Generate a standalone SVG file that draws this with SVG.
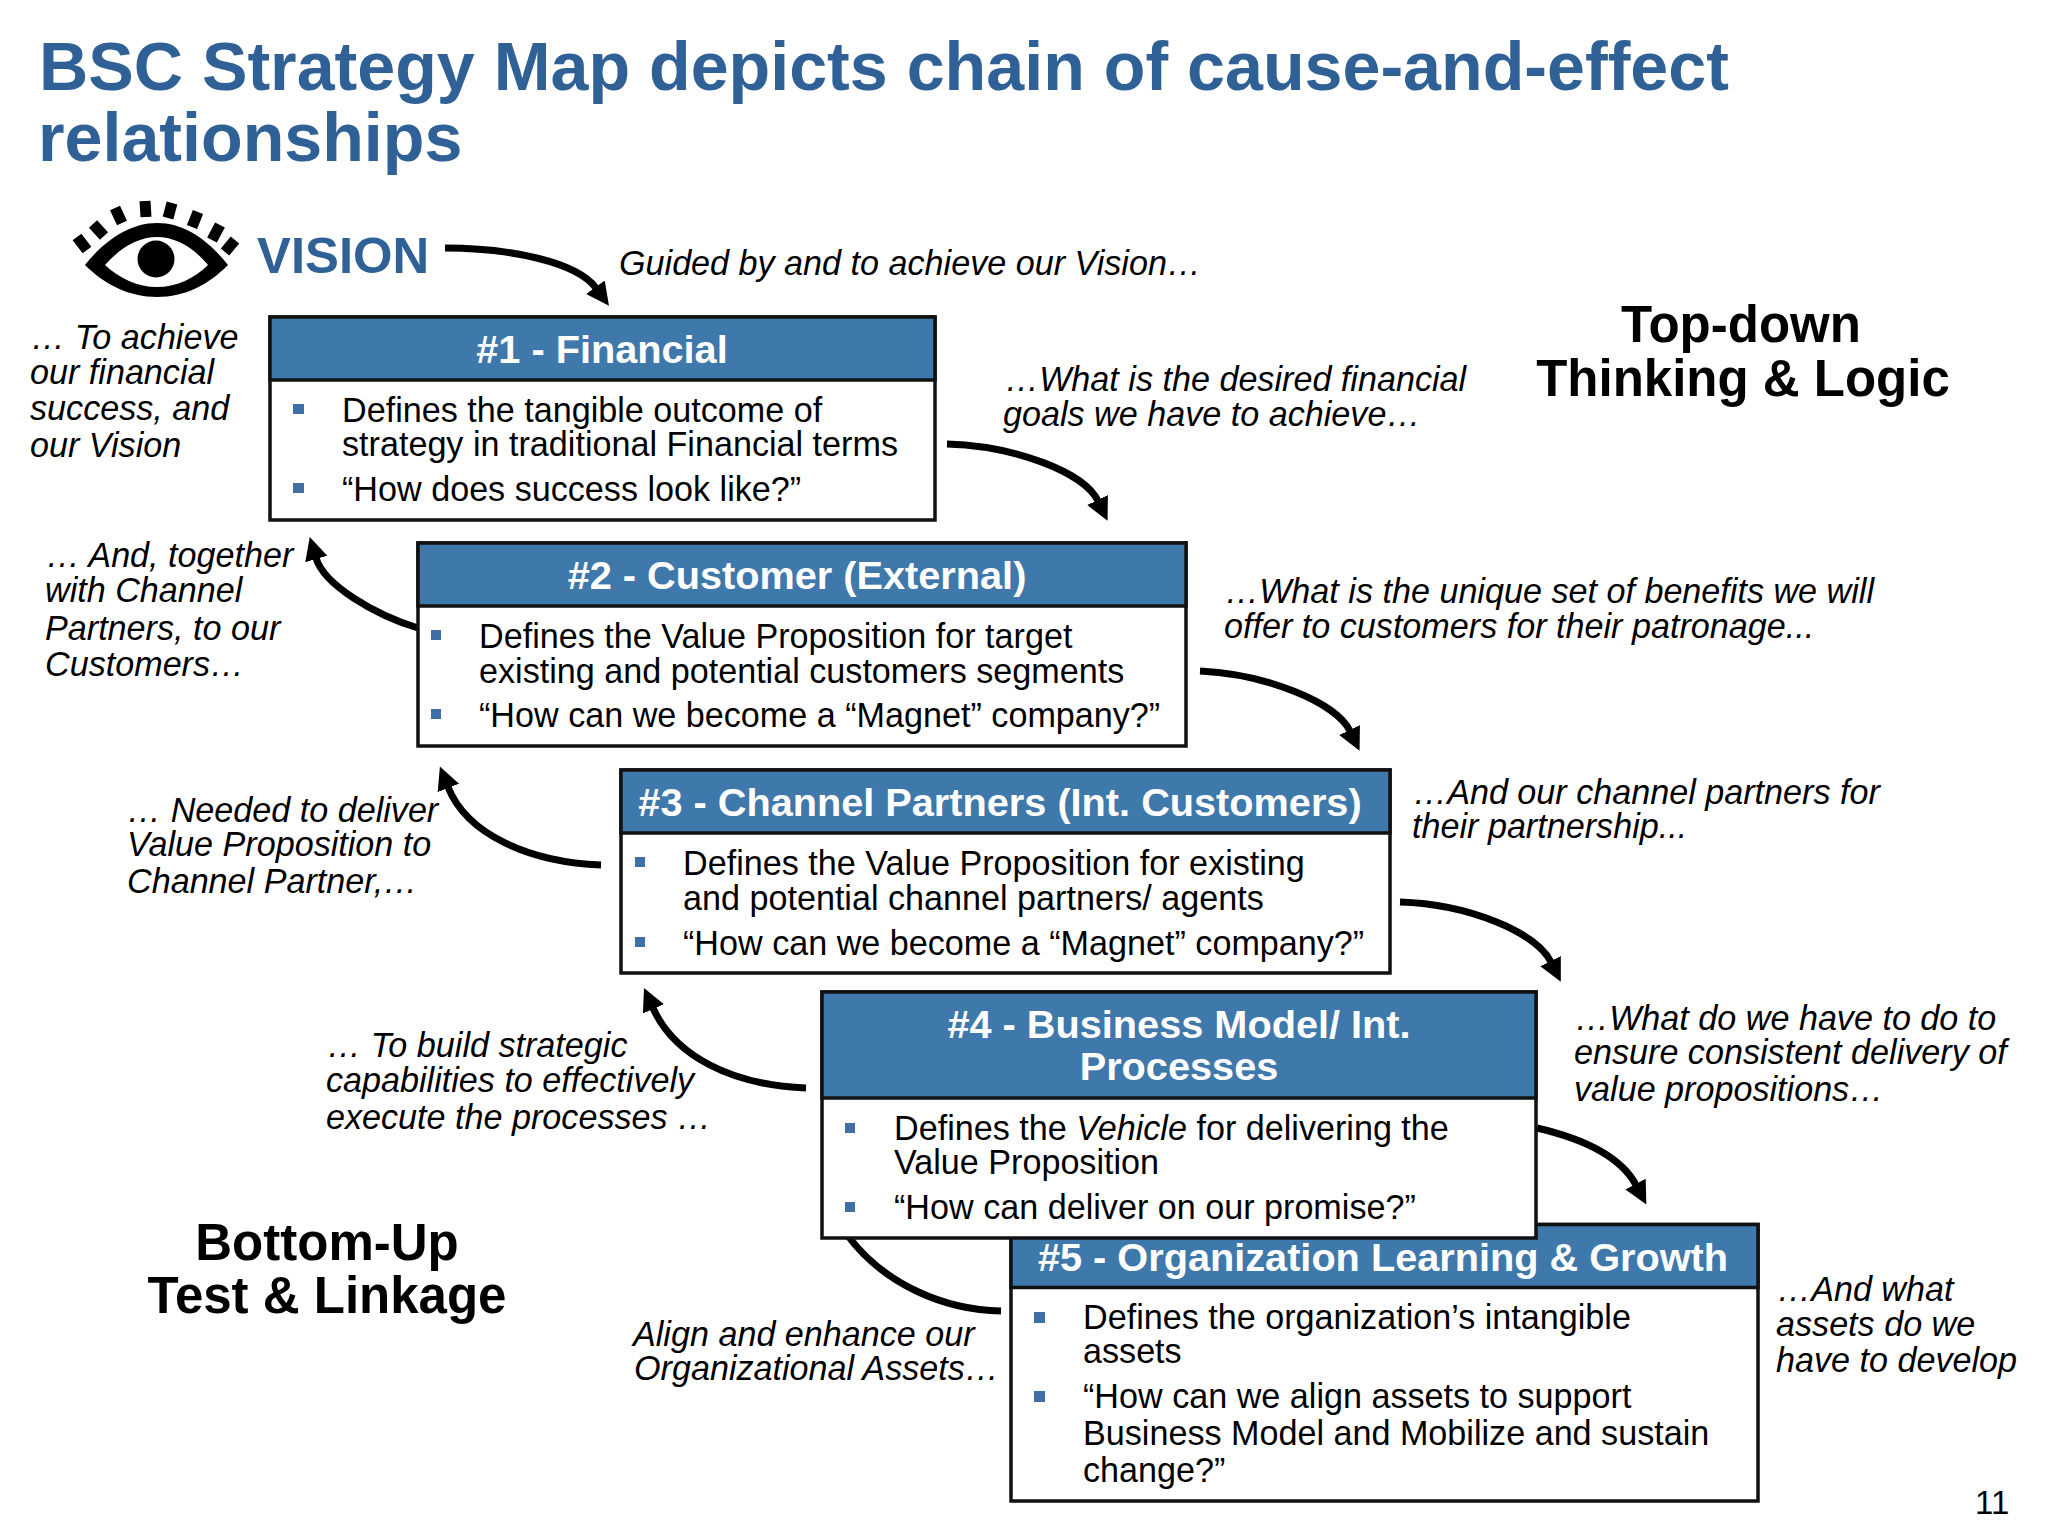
<svg xmlns="http://www.w3.org/2000/svg" width="2048" height="1536" viewBox="0 0 2048 1536">
<style>
text{font-family:"Liberation Sans",Arial,sans-serif;fill:#000}
.t{font-size:68.2px;font-weight:700;fill:#2f6196}
.v{font-size:50.8px;font-weight:700;fill:#2f6196}
.h{font-size:39.7px;font-weight:700;fill:#fff;text-anchor:middle}
.b{font-size:34.15px}
.i{font-size:34.15px;font-style:italic}
.k{font-size:51px;font-weight:700;text-anchor:middle}
.box{fill:#fff;stroke:#111;stroke-width:3.5}
.hd{fill:#3f78ab;stroke:#111;stroke-width:3.5}
.bl{fill:#3f6fa5}
.a{fill:none;stroke:#000;stroke-width:7;marker-end:url(#ah)}
.n{fill:none;stroke:#000;stroke-width:7}
</style>
<defs>
<marker id="ah" markerUnits="userSpaceOnUse" markerWidth="28" markerHeight="28" viewBox="0 0 28 28" refX="1" refY="14" orient="auto"><path d="M0 2.500L23 14L0 25.500Z" fill="#000"/></marker>
</defs>
<rect width="2048" height="1536" fill="#fff"/>
<text class="t" x="39" y="90">BSC Strategy Map depicts chain of cause-and-effect</text>
<text class="t" x="38" y="161">relationships</text>
<g id="vision">
<path fill-rule="evenodd" d="M85 265C105 240 130 223 157 223C185 223 208 240 228 265C208 285 185 297 157 297C130 297 105 285 85 265ZM105 265C120 279 138 287 157 287C176 287 194 279 208 265C194 248 176 237 157 237C138 237 120 248 105 265Z" fill="#000"/>
<circle cx="156" cy="259" r="18.5" fill="#000"/>
<path stroke="#000" stroke-width="11" fill="none" d="M77 237L87 250M93 224L104 236M115 208L122 223M145 201L146 217M172 203L168 218M198 212L192 227M220 225L212 240M235 240L225 252"/>
<text class="v" x="257" y="273">VISION</text>
</g>
<g id="connectors">
<path class="a" d="M445 248C510 248 577 262 596 288"/>
<path class="a" d="M947 444C1015 446 1084 472 1098 501"/>
<path class="a" d="M1200 671C1265 674 1336 702 1350 731"/>
<path class="a" d="M1400 902C1468 904 1536 932 1551 962"/>
<path class="a" d="M1537 1128C1580 1138 1620 1155 1636 1185"/>
<path class="a" d="M418 628C375 615 324 585 316 558"/>
<path class="a" d="M601 865C530 862 467 835 448 787"/>
<path class="a" d="M806 1088C730 1085 674 1055 653 1008"/>
<path class="n" d="M1001 1311C945 1310 885 1285 848 1236"/>
</g>
<g id="node5">
<rect class="box" x="1011" y="1224.500" width="747" height="276.500"/>
<rect class="hd" x="1011" y="1224.500" width="747" height="63"/>
<text class="h" x="1383" y="1271">#5 - Organization Learning &amp; Growth</text>
<rect class="bl" x="1034" y="1312" width="11" height="11"/><rect class="bl" x="1034" y="1391" width="11" height="11"/>
<text class="b" x="1083" y="1329">Defines the organization’s intangible</text>
<text class="b" x="1083" y="1363">assets</text>
<text class="b" x="1083" y="1408">“How can we align assets to support</text>
<text class="b" x="1083" y="1445">Business Model and Mobilize and sustain</text>
<text class="b" x="1083" y="1482">change?”</text>
</g>
<g id="node4">
<rect class="box" x="822" y="992" width="714" height="246"/>
<rect class="hd" x="822" y="992" width="714" height="106"/>
<text class="h" x="1179" y="1038">#4 - Business Model/ Int.</text>
<text class="h" x="1179" y="1080">Processes</text>
<rect class="bl" x="845" y="1123" width="10" height="10"/><rect class="bl" x="845" y="1202" width="10" height="10"/>
<text class="b" x="894" y="1140">Defines the <tspan font-style="italic">Vehicle</tspan> for delivering the</text>
<text class="b" x="894" y="1174">Value Proposition</text>
<text class="b" x="894" y="1219">“How can deliver on our promise?”</text>
</g>
<g id="node3">
<rect class="box" x="621" y="770" width="769" height="203"/>
<rect class="hd" x="621" y="770" width="769" height="63"/>
<text class="h" x="1000" y="816">#3 - Channel Partners (Int. Customers)</text>
<rect class="bl" x="635" y="857" width="10" height="10"/><rect class="bl" x="635" y="937" width="10" height="10"/>
<text class="b" x="683" y="875">Defines the Value Proposition for existing</text>
<text class="b" x="683" y="910">and potential channel partners/ agents</text>
<text class="b" x="683" y="955">“How can we become a “Magnet” company?”</text>
</g>
<g id="node2">
<rect class="box" x="418" y="543" width="768" height="203"/>
<rect class="hd" x="418" y="543" width="768" height="63"/>
<text class="h" x="797" y="589">#2 - Customer (External)</text>
<rect class="bl" x="431" y="630" width="10" height="10"/><rect class="bl" x="431" y="709" width="10" height="10"/>
<text class="b" x="479" y="648">Defines the Value Proposition for target</text>
<text class="b" x="479" y="683">existing and potential customers segments</text>
<text class="b" x="479" y="727">“How can we become a “Magnet” company?”</text>
</g>
<g id="node1">
<rect class="box" x="270" y="317" width="665" height="203"/>
<rect class="hd" x="270" y="317" width="665" height="63"/>
<text class="h" x="602" y="363">#1 - Financial</text>
<rect class="bl" x="293" y="404" width="11" height="10"/><rect class="bl" x="293" y="483" width="11" height="10"/>
<text class="b" x="342" y="422">Defines the tangible outcome of</text>
<text class="b" x="342" y="456">strategy in traditional Financial terms</text>
<text class="b" x="342" y="501">“How does success look like?”</text>
</g>
<g id="notes">
<text class="i" x="619" y="275">Guided by and to achieve our Vision…</text>
<text class="i" x="1005" y="391">…What is the desired financial</text>
<text class="i" x="1003" y="426">goals we have to achieve…</text>
<text class="i" x="1225" y="603">…What is the unique set of benefits we will</text>
<text class="i" x="1224" y="638">offer to customers for their patronage...</text>
<text class="i" x="1413" y="804">…And our channel partners for</text>
<text class="i" x="1412" y="838">their partnership...</text>
<text class="i" x="1575" y="1030">…What do we have to do to</text>
<text class="i" x="1574" y="1064">ensure consistent delivery of</text>
<text class="i" x="1574" y="1101">value propositions…</text>
<text class="i" x="1777" y="1301">…And what</text>
<text class="i" x="1776" y="1336">assets do we</text>
<text class="i" x="1776" y="1372">have to develop</text>
<text class="i" x="31" y="349">… To achieve</text>
<text class="i" x="30" y="384">our financial</text>
<text class="i" x="30" y="420">success, and</text>
<text class="i" x="30" y="457">our Vision</text>
<text class="i" x="46" y="567">… And, together</text>
<text class="i" x="45" y="602">with Channel</text>
<text class="i" x="45" y="640">Partners, to our</text>
<text class="i" x="45" y="676">Customers…</text>
<text class="i" x="127" y="822">… Needed to deliver</text>
<text class="i" x="127" y="856">Value Proposition to</text>
<text class="i" x="127" y="893">Channel Partner,…</text>
<text class="i" x="327" y="1057">… To build strategic</text>
<text class="i" x="326" y="1092">capabilities to effectively</text>
<text class="i" x="326" y="1129">execute the processes …</text>
<text class="i" x="633" y="1346">Align and enhance our</text>
<text class="i" x="634" y="1380">Organizational Assets…</text>
<text class="k" x="1741" y="342">Top-down</text>
<text class="k" x="1743" y="396">Thinking &amp; Logic</text>
<text class="k" x="327" y="1260">Bottom-Up</text>
<text class="k" x="327" y="1313">Test &amp; Linkage</text>
<text x="1975" y="1514" font-size="33">11</text>
</g>
</svg>
